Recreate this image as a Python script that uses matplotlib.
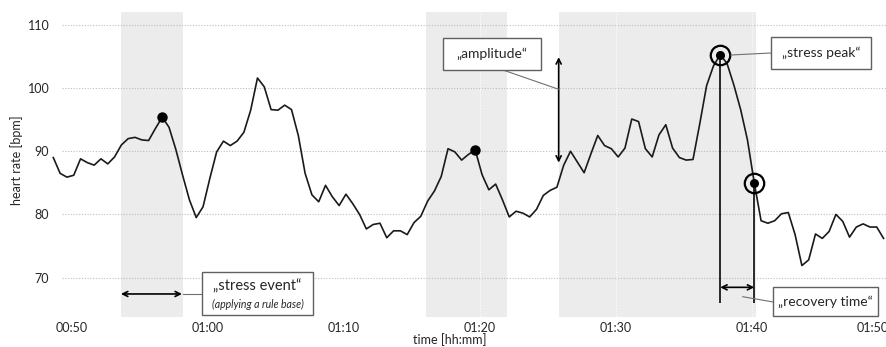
import numpy as np
import matplotlib
matplotlib.use('Agg')
import matplotlib.pyplot as plt
from matplotlib.patches import Rectangle
from matplotlib.lines import Line2D

plt.rcParams['font.family'] = ['Lato', 'DejaVu Sans']

# ---------------- data ----------------
heart_rate = [
    89.0, 86.5, 85.9, 86.2, 88.8, 88.2, 87.8, 88.8, 88.0, 89.1,
    91.0, 92.0, 92.2, 91.8, 91.7, 93.6, 95.4, 93.8, 90.3, 86.2,
    82.3, 79.5, 81.2, 85.7, 89.9, 91.6, 90.9, 91.6, 93.0, 96.5,
    101.6, 100.2, 96.6, 96.5, 97.3, 96.6, 92.5, 86.5, 83.1, 82.0,
    84.6, 82.8, 81.4, 83.2, 81.7, 80.0, 77.7, 78.4, 78.6, 76.3,
    77.4, 77.4, 76.8, 78.7, 79.7, 82.1, 83.7, 86.0, 90.4, 89.9,
    88.6, 89.5, 90.2, 86.3, 83.9, 84.8, 82.3, 79.6, 80.5, 80.2,
    79.6, 80.8, 83.0, 83.8, 84.3, 87.8, 90.0, 88.3, 86.6, 89.6,
    92.5, 90.9, 90.4, 89.1, 90.5, 95.1, 94.7, 90.4, 89.1, 92.6,
    94.2, 90.5, 89.0, 88.6, 88.7, 94.4, 100.4, 103.5, 105.3, 103.9,
    100.5, 96.6, 91.8, 85.0, 79.0, 78.6, 79.0, 80.1, 80.3, 76.8,
    71.9, 72.8, 76.9, 76.2, 77.3, 80.0, 78.9, 76.4, 78.0, 78.5,
    78.0, 78.0, 76.2,
]
sample_start_min = -1.35      # minutes relative to 00:50
sample_interval_min = 0.5     # 30 s samples
times = sample_start_min + sample_interval_min * np.arange(len(heart_rate))
hr = np.array(heart_rate)

tick_minutes = [0, 10, 20, 30, 40, 50, 60]
tick_labels = ['00:50', '01:00', '01:10', '01:20', '01:30', '01:40', '01:50']
y_ticks = [70, 80, 90, 100, 110]
shaded_ranges = [(3.6, 8.15), (26.0, 32.0), (35.8, 50.3)]
event_dots = [16, 62]
peak_idx = 98
recovery_idx = 103
amplitude_range = (88.2, 104.9)
amplitude_time = 35.78

# ---------------- layout ----------------
W, H = 887, 347
fig = plt.figure(figsize=(W / 100, H / 100), dpi=100)
ax_l, ax_r, ax_t, ax_b = 52, 889, 11.7, 316.7
ax = fig.add_axes([ax_l / W, (H - ax_b) / H, (ax_r - ax_l) / W, (ax_b - ax_t) / H])
ax.set_xlim(-1.447, 60.05)
ax.set_ylim(63.8, 112.1)
for s in ax.spines.values():
    s.set_visible(False)

txt_col = '#262626'
line_col = '#1a1a1a'

# shaded stress windows
for a, b in shaded_ranges:
    ax.axvspan(a, b, color='#ececec', lw=0, zorder=0)

# grid
ax.hlines(y_ticks, -0.71, 60.05, colors='#bdbdbd', linestyles=(0, (1, 1.5)), lw=0.8, zorder=1)
ax.vlines(tick_minutes, 63.8, 112.1, colors='white', linestyles=(0, (1, 1.5)), lw=0.8, zorder=1.5)

# ticks
ax.set_yticks(y_ticks)
ax.set_yticklabels([str(v) for v in y_ticks])
ax.set_xticks(tick_minutes)
ax.set_xticklabels(tick_labels)
ax.tick_params(axis='both', length=0, labelsize=9, colors=txt_col)
ax.tick_params(axis='y', pad=2)
ax.tick_params(axis='x', pad=4)
ax.get_xticklabels()[-1].set_ha('right')

# main line
ax.plot(times, hr, color=line_col, lw=1.2, zorder=3)

# event dots
ax.plot(times[event_dots], hr[event_dots], 'o', ms=6.5, color='black', zorder=4)

# peak / recovery markers
tp, vp = times[peak_idx], hr[peak_idx]
tr, vr = times[recovery_idx], hr[recovery_idx]
ax.vlines([tp, tr], 66.0, [vp, vr], colors=line_col, lw=1.3, zorder=2)
ax.plot([tp, tr], [vp, vr], 'o', ms=14, mfc='none', mec='black', mew=1.6, zorder=4)
ax.plot([tp, tr], [vp, vr], 'o', ms=5.5, color='black', zorder=4)

arrow = dict(arrowstyle='<->', color='black', lw=1.2, shrinkA=0, shrinkB=0, mutation_scale=9)
ax.annotate('', xy=(8.1, 67.4), xytext=(3.62, 67.4), arrowprops=arrow, zorder=4)
ax.annotate('', xy=(amplitude_time, amplitude_range[1]), xytext=(amplitude_time, amplitude_range[0]),
            arrowprops=arrow, zorder=4)
ax.annotate('', xy=(tr, 68.45), xytext=(tp, 68.45), arrowprops=arrow, zorder=4)

# ---------------- callout boxes (figure pixel coords) ----------------
def fx(x):
    return x / W

def fy(y):
    return 1 - y / H

def box(x0, y0, x1, y1):
    fig.add_artist(Rectangle((fx(x0), fy(y1)), (x1 - x0) / W, (y1 - y0) / H,
                             transform=fig.transFigure, fc='white', ec='#606060', lw=1.0, zorder=5))

def conn(x0, y0, x1, y1):
    fig.add_artist(Line2D([fx(x0), fx(x1)], [fy(y0), fy(y1)], transform=fig.transFigure,
                          color='#707070', lw=0.8, zorder=4))

def label(x, y, s, **kw):
    fig.text(fx(x), fy(y), s, ha='center', va='center', color=txt_col, zorder=6, **kw)

conn(183, 294, 202, 294)
box(202, 271.7, 313, 315)
label(257.5, 286, '\u201estress event\u201c', fontsize=10.5)
label(257.5, 304, '(applying a rule base)', fontsize=7.6, style='italic')

conn(505, 70.7, 558.7, 89.3)
box(443.3, 37.7, 541, 70)
label(492, 54, '\u201eamplitude\u201c', fontsize=10)

conn(731, 55, 771, 53)
box(771, 36.7, 871, 69.3)
label(821, 53, '\u201estress peak\u201c', fontsize=10)

conn(742.7, 296.7, 773.3, 302)
box(773.3, 287.3, 878.3, 316)
label(825.8, 301.7, '\u201erecovery time\u201c', fontsize=10)

# axis titles
fig.text(fx(450), fy(340), 'time [hh:mm]', ha='center', va='center', fontsize=9, color=txt_col)
fig.text(fx(16.7), fy(160), 'heart rate [bpm]', ha='center', va='center', fontsize=9,
         rotation=90, color=txt_col)

fig.savefig('out.png', dpi=100)
